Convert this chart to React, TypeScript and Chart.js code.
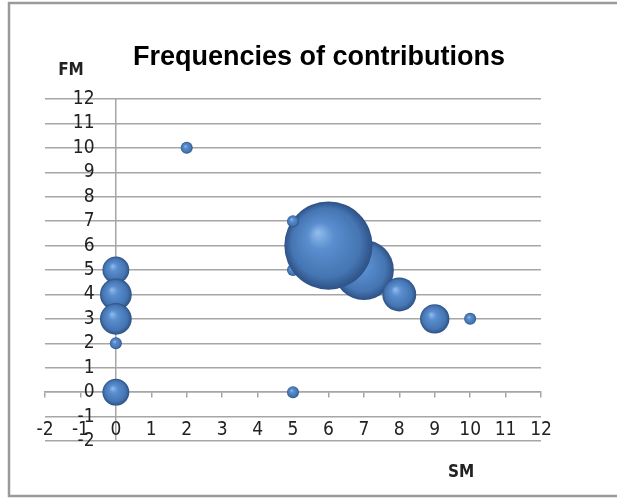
import { useEffect, useRef } from 'react';
import { Chart, registerables } from 'chart.js';

Chart.register(...registerables);

// ---- data ----
const chartTitle = 'Frequencies of contributions';
const xAxisTitle = 'SM';
const yAxisTitle = 'FM';
// drawing order matters for overlaps
const smValues = [0, 0, 0, 0, 0, 2, 5, 7, 6, 5, 8, 9, 10, 5];
const fmValues = [5, 4, 3, 2, 0, 10, 5, 5, 6, 7, 4, 3, 3, 0];
const frequencies = [5, 7, 7, 1, 5, 1, 1, 25, 54, 1, 8, 6, 1, 1];
const xMin = -2;
const xMax = 12;
const yMin = -2;
const yMax = 12;

const BUBBLE_SCALE = 6; // px radius for a frequency of 1 (area-proportional)
const GRID = '#a6a6a6';
const TICK_FONT = "'Liberation Sans Narrow', 'DejaVu Sans Condensed', 'Liberation Sans', sans-serif";

const sphereColor = (ctx: any) => {
  const chart = ctx.chart;
  const raw = ctx.raw;
  const fallback = '#4a7ebb';
  if (!raw || !chart.scales || !chart.scales.x || !chart.scales.y) return fallback;
  const cx = chart.scales.x.getPixelForValue(raw.x);
  const cy = chart.scales.y.getPixelForValue(raw.y);
  const r = raw.r || 1;
  if (!isFinite(cx) || !isFinite(cy)) return fallback;
  const g = chart.ctx.createRadialGradient(cx - 0.25 * r, cy - 0.3 * r, 0, cx, cy, r);
  g.addColorStop(0, '#93bdec');
  g.addColorStop(0.3, '#5a8ecf');
  g.addColorStop(0.78, '#4575b2');
  g.addColorStop(1, '#2d5185');
  return g;
};

const decorPlugin = {
  id: 'decor',
  afterDraw(chart: any) {
    const c = chart.ctx;
    c.save();
    // outer frame (left, top, bottom)
    c.strokeStyle = '#9a9a9a';
    c.lineWidth = 2.5;
    c.beginPath();
    c.moveTo(625, 3);
    c.lineTo(9, 3);
    c.lineTo(9, 496);
    c.lineTo(625, 496);
    c.stroke();
    // title
    c.fillStyle = '#000';
    c.textAlign = 'center';
    c.textBaseline = 'alphabetic';
    c.font = "bold 27px 'Liberation Sans', Arial, sans-serif";
    c.fillText(chartTitle, 319, 65);
    // axis titles
    c.font = "bold 17px " + TICK_FONT;
    c.textBaseline = 'middle';
    c.fillStyle = '#222';
    c.fillText(yAxisTitle, 71, 71);
    c.fillText(xAxisTitle, 461, 473);
    c.restore();
  },
};

export default function App() {
  const ref = useRef<HTMLCanvasElement | null>(null);

  useEffect(() => {
    if (!ref.current) return;
    const points = smValues.map((x, i) => ({
      x,
      y: fmValues[i],
      r: BUBBLE_SCALE * Math.sqrt(frequencies[i]),
    }));
    const chart = new Chart(ref.current, {
      type: 'bubble',
      data: {
        datasets: [
          {
            label: 'FM vs SM',
            data: points,
            backgroundColor: sphereColor,
            hoverBackgroundColor: sphereColor,
            borderWidth: 0,
            hoverBorderWidth: 0,
            clip: false,
          } as any,
        ],
      },
      options: {
        responsive: false,
        animation: false,
        events: [],
        layout: { padding: { left: 45, right: 76, top: 99, bottom: 57 } },
        plugins: {
          legend: { display: false },
          tooltip: { enabled: false },
          title: { display: false },
        },
        scales: {
          x: {
            type: 'linear',
            min: xMin,
            max: xMax,
            position: { y: 0 } as any,
            ticks: {
              stepSize: 1,
              padding: 22,
              color: '#222',
              font: { family: TICK_FONT, size: 19 },
              maxRotation: 0,
              autoSkip: false,
            },
            grid: {
              display: true,
              drawOnChartArea: true,
              drawTicks: true,
              tickLength: 5,
              color: (ctx: any) => (ctx.tick && ctx.tick.value === 0 ? GRID : 'rgba(0,0,0,0)'),
              tickColor: GRID,
              lineWidth: 1.5,
            },
            border: { display: true, color: GRID, width: 1.5 },
          },
          y: {
            type: 'linear',
            min: yMin,
            max: yMax,
            position: { x: -0.6 } as any,
            ticks: {
              stepSize: 1,
              padding: 0,
              color: '#222',
              font: { family: TICK_FONT, size: 19 },
              autoSkip: false,
            },
            grid: {
              display: true,
              drawOnChartArea: true,
              drawTicks: false,
              tickLength: 0,
              color: GRID,
              lineWidth: 1.5,
            },
            border: { display: false },
          },
        },
      },
      plugins: [decorPlugin],
    });
    return () => chart.destroy();
  }, []);

  return (
    <div style={{ position: 'absolute', left: 0, top: 0, width: 617, height: 498, background: '#fff' }}>
      <canvas ref={ref} width={617} height={498} style={{ display: 'block' }} />
    </div>
  );
}
